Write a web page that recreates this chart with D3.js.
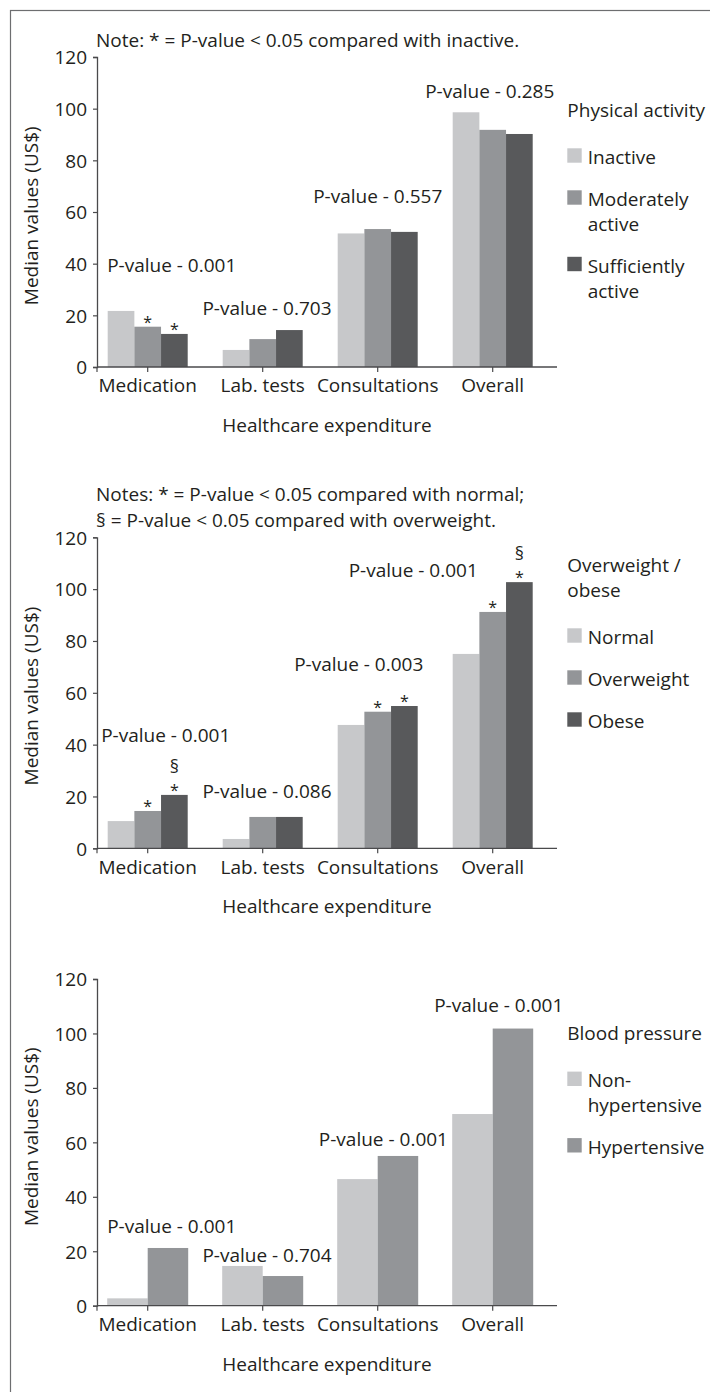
<!DOCTYPE html>
<html><head><meta charset="utf-8">
<script src="https://cdn.jsdelivr.net/npm/d3@7"></script>
<style>
body{margin:0;background:#fff}
svg{display:block}
text{font-family:"Open Sans",sans-serif;fill:#231f20}
</style>
</head><body>
<svg id="c" width="710" height="1392"></svg>
<script>
// ---------- DATA ----------
const categories = ["Medication", "Lab. tests", "Consultations", "Overall"];
const yTicks = [0, 20, 40, 60, 80, 100, 120];
const xTitle = "Healthcare expenditure";
const yTitle = "Median values (US$)";

// Panel 1: physical activity
const activityTitle = ["Physical activity"];
const activitySeries = ["Inactive", "Moderately active", "Sufficiently active"];
const activityLegend = [["Inactive"], ["Moderately", "active"], ["Sufficiently", "active"]];
const activityValues = [
  [21.7, 6.6, 51.7, 98.6],
  [15.6, 10.8, 53.4, 91.8],
  [12.8, 14.3, 52.3, 90.2]
];
const activityPValues = ["0.001", "0.703", "0.557", "0.285"];
const activityStars = [["", "", "", ""], ["*", "", "", ""], ["*", "", "", ""]];
const activitySections = [["", "", "", ""], ["", "", "", ""], ["", "", "", ""]];
const activityNotes = ["Note: * = P-value < 0.05 compared with inactive."];

// Panel 2: overweight / obese
const bmiTitle = ["Overweight /", "obese"];
const bmiSeries = ["Normal", "Overweight", "Obese"];
const bmiLegend = [["Normal"], ["Overweight"], ["Obese"]];
const bmiValues = [
  [10.5, 3.6, 47.6, 75.0],
  [14.4, 12.1, 52.7, 91.2],
  [20.6, 12.1, 54.9, 102.7]
];
const bmiPValues = ["0.001", "0.086", "0.003", "0.001"];
const bmiStars = [["", "", "", ""], ["*", "", "*", "*"], ["*", "", "*", "*"]];
const bmiSections = [["", "", "", ""], ["", "", "", ""], ["§", "", "", "§"]];
const bmiNotes = ["Notes: * = P-value < 0.05 compared with normal;",
                  "§ = P-value < 0.05 compared with overweight."];

// Panel 3: blood pressure
const bpTitle = ["Blood pressure"];
const bpSeries = ["Non-hypertensive", "Hypertensive"];
const bpLegend = [["Non-", "hypertensive"], ["Hypertensive"]];
const bpValues = [
  [2.7, 14.6, 46.5, 70.4],
  [21.2, 10.9, 55.0, 101.8]
];
const bpPValues = ["0.001", "0.704", "0.001", "0.001"];
const bpStars = [["", "", "", ""], ["", "", "", ""]];
const bpSections = [["", "", "", ""], ["", "", "", ""]];
const bpNotes = [];

// ---------- STYLE / LAYOUT ----------
const greys3 = ["#c7c8ca", "#939598", "#58595b"];
const greys2 = ["#c7c8ca", "#939598"];
const axisColor = "#4a4a4c";
const FS = 19;

const panels = [
  {series: activitySeries, legend: activityLegend, title: activityTitle, values: activityValues,
   p: activityPValues, stars: activityStars, sections: activitySections, notes: activityNotes,
   colors: greys3, top: 57, bottom: 367, noteY: 46.7, legendY: 116.7, yTitleC: 215.8,
   groupW: 80, pDx: [24, 4.3, 0, -3], pY: [36.9, 20.1, 63.5, 104.0]},
  {series: bmiSeries, legend: bmiLegend, title: bmiTitle, values: bmiValues,
   p: bmiPValues, stars: bmiStars, sections: bmiSections, notes: bmiNotes,
   colors: greys3, top: 537.3, bottom: 848.3, noteY: 501, legendY: 571.7, yTitleC: 696,
   groupW: 80, pDx: [18, 4.3, -19, -79.5], pY: [41.1, 19.3, 68.5, 104.8]},
  {series: bpSeries, legend: bpLegend, title: bpTitle, values: bpValues,
   p: bpPValues, stars: bpStars, sections: bpSections, notes: bpNotes,
   colors: greys2, top: 979, bottom: 1305.7, noteY: 0, legendY: 1040, yTitleC: 1136.7,
   groupW: 81, pDx: [24, 4.3, 5.7, 6], pY: [26.6, 16.2, 58.8, 108.0]}
];

const svg = d3.select("#c");

// frame (left and top edges visible)
svg.append("rect").attr("x", 10.5).attr("y", 10.5).attr("width", 720).attr("height", 1400)
  .attr("fill", "none").attr("stroke", "#6d6e70").attr("stroke-width", 1.2);

const axisX0 = 97, axisX1 = 557;
const x = d3.scaleBand().domain(categories).range([90.2, 550.2]).padding(0);

panels.forEach(P => {
  const g = svg.append("g");
  const y = d3.scaleLinear().domain([0, 120]).range([P.bottom, P.top]);
  const inner = d3.scaleBand().domain(P.series).range([-P.groupW / 2, P.groupW / 2]);

  // notes
  P.notes.forEach((t, i) => {
    g.append("text").attr("x", axisX0 - 1).attr("y", P.noteY + i * 25.7)
      .attr("font-size", FS).text(t);
  });

  // bars
  P.series.forEach((s, si) => {
    g.append("g").selectAll("rect").data(categories).join("rect")
      .attr("x", c => x(c) + x.bandwidth() / 2 + inner(s))
      .attr("width", inner.bandwidth())
      .attr("y", (c, ci) => y(P.values[si][ci]))
      .attr("height", (c, ci) => y(0) - y(P.values[si][ci]))
      .attr("fill", P.colors[si]);
  });

  // significance markers
  P.series.forEach((s, si) => {
    categories.forEach((c, ci) => {
      const cx = x(c) + x.bandwidth() / 2 + inner(s) + inner.bandwidth() / 2;
      const topY = y(P.values[si][ci]);
      if (P.stars[si][ci]) {
        g.append("text").attr("x", cx).attr("y", topY + 1).attr("text-anchor", "middle")
          .attr("font-size", 16).attr("fill", "#3a3a3c").text(P.stars[si][ci]);
      }
      if (P.sections[si][ci]) {
        g.append("text").attr("x", cx).attr("y", topY - 22).attr("text-anchor", "middle")
          .attr("font-size", 18).attr("fill", "#3a3a3c").text(P.sections[si][ci]);
      }
    });
  });

  // p-value labels
  categories.forEach((c, ci) => {
    g.append("text").attr("x", x(c) + x.bandwidth() / 2 + P.pDx[ci]).attr("y", y(P.pY[ci]))
      .attr("text-anchor", "middle").attr("font-size", FS).text("P-value - " + P.p[ci]);
  });

  // y axis
  const ya = g.append("g").attr("transform", `translate(${axisX0},0)`)
    .call(d3.axisLeft(y).tickValues(yTicks).tickSize(4).tickSizeOuter(4).tickPadding(6));
  ya.select(".domain").attr("stroke", axisColor).attr("stroke-width", 1.3);
  ya.selectAll(".tick line").attr("stroke", axisColor).attr("stroke-width", 1.2);
  ya.selectAll(".tick text").attr("font-size", FS).attr("font-family", '"Open Sans",sans-serif')
    .attr("fill", "#231f20").attr("dy", "0.36em");

  // x axis
  const xa = g.append("g").attr("transform", `translate(0,${y(0)})`)
    .call(d3.axisBottom(x).tickSize(5).tickSizeOuter(0).tickPadding(7));
  xa.select(".domain").remove();
  xa.selectAll(".tick line").attr("stroke", axisColor).attr("stroke-width", 1.2);
  xa.selectAll(".tick text").attr("font-size", FS).attr("font-family", '"Open Sans",sans-serif')
    .attr("fill", "#231f20").attr("dy", "0.71em");
  xa.append("line").attr("x1", axisX0).attr("x2", axisX1).attr("y1", 0).attr("y2", 0)
    .attr("stroke", axisColor).attr("stroke-width", 1.3);
  xa.append("line").attr("x1", axisX0).attr("x2", axisX0).attr("y1", 0).attr("y2", 5)
    .attr("stroke", axisColor).attr("stroke-width", 1.2);

  // axis titles
  g.append("text").attr("x", (axisX0 + axisX1) / 2).attr("y", y(0) + 65)
    .attr("text-anchor", "middle").attr("font-size", FS).text(xTitle);
  g.append("text").attr("transform", `translate(38,${P.yTitleC}) rotate(-90)`)
    .attr("text-anchor", "middle").attr("font-size", FS).text(yTitle);

  // legend
  const lx = 567.3;
  P.title.forEach((t, i) => {
    g.append("text").attr("x", lx).attr("y", P.legendY + i * 25).attr("font-size", FS).text(t);
  });
  let ly = P.legendY + (P.title.length - 1) * 25 + 47.3; // baseline of first item
  P.legend.forEach((lines, i) => {
    g.append("rect").attr("x", lx).attr("y", ly - 15.7).attr("width", 14.4).attr("height", 14.4)
      .attr("fill", P.colors[i]);
    lines.forEach((t, j) => {
      g.append("text").attr("x", lx + 20.4).attr("y", ly + j * 25).attr("font-size", FS).text(t);
    });
    ly += 42 + (lines.length - 1) * 24.5;
  });
});
</script>
</body></html>
